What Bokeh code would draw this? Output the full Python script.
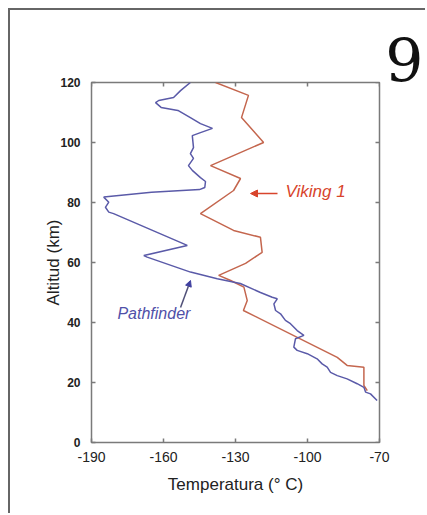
from bokeh.plotting import figure
from bokeh.models import Range1d, FixedTicker, Title, Arrow, NormalHead, Label
from bokeh.embed import file_html
from bokeh.resources import INLINE
import math

pf_alt = [120, 117.3, 115, 114, 113.3, 111.7, 110.7, 108.3, 106.3, 104.7, 103.3, 102.3,
          98.3, 96.3, 94.7, 92.3, 90.7, 88.3, 87, 85, 84.3, 83.4, 81.8, 80.1, 78.4, 76.8,
          76.3, 65.7, 62.3, 61.8, 56.8, 54.6, 53, 50, 48.4, 47.9, 46.2, 44, 42.9, 40.7,
          39.6, 37.3, 35.7, 34.6, 31.8, 30.7, 29.6, 27.9, 26.2, 25.1, 23.4, 22.3, 21.2,
          19.6, 18.4, 16.8, 16.2, 14]
pf_temp = [-148.8, -152.9, -155.8, -162, -163.3, -161, -154, -148.8, -144.6, -139.6, -144.6, -148,
           -147.5, -148.8, -147.5, -149.6, -148, -144.6, -142.5, -142.8, -145, -165, -184.9, -182.8, -184.2, -182.8,
           -180.8, -150.1, -168.2, -166.8, -148.75, -137.6, -128, -119.6, -114.7, -112.6, -114, -113.3, -111.25, -109.2,
           -107.1, -104.3, -101.5, -105, -105.7, -104.3, -100.1, -96, -93.9, -91.8, -90.4, -87.6, -83.5,
           -79.3, -76.5, -75.8, -73.75, -71]

vk_alt = [120, 115.7, 108.3, 100, 92.3, 88, 84, 76.3, 70.7, 68.4, 63.4, 59.7, 55.7, 54,
          51.8, 47.3, 44, 28.4, 25.7, 25.1, 19, 17.3]
vk_temp = [-138.3, -124.6, -127.5, -118.3, -140.4, -127.9, -130.8, -144.6, -130.8, -119.6, -118.9, -125.8, -137, -132,
           -126.5, -125.1, -126.7, -87.6, -83.5, -76.5, -76.5, -75.1]

x_ticks = [-190, -160, -130, -100, -70]
y_ticks = [0, 20, 40, 60, 80, 100, 120]

BLUE = "#5a5aa8"
RED = "#c4664e"
GRAY = "#7a7a7a"

p = figure(width=417, height=505, output_backend="svg", toolbar_location=None,
           x_range=Range1d(-190, -70), y_range=Range1d(0, 120),
           min_border_left=81, min_border_right=48, min_border_top=72, min_border_bottom=73)
p.styles = {"margin-left": "8px", "margin-top": "8px",
            "border-top": "2px solid #666666", "border-left": "2px solid #666666"}
p.grid.visible = False
p.outline_line_color = GRAY
p.outline_line_width = 1.5
p.background_fill_color = "white"
p.border_fill_color = "white"

p.title = Title(text="9", text_font="DejaVu Serif", text_font_size="60px",
                text_font_style="normal", text_color="#111111", align="right",
                offset=-44, standoff=0, vertical_align="middle")
p.title_location = "above"

p.xaxis.ticker = FixedTicker(ticks=x_ticks)
p.yaxis.ticker = FixedTicker(ticks=y_ticks)
p.xaxis.major_label_overrides = {t: str(t) for t in x_ticks}
for ax in (p.xaxis[0], p.yaxis[0]):
    ax.axis_line_color = None
    ax.major_tick_in = 4
    ax.major_tick_out = 0
    ax.major_tick_line_color = GRAY
    ax.major_tick_line_width = 1.5
    ax.minor_tick_line_color = None
    ax.major_label_text_color = "#222222"
    ax.axis_label_text_font = "Liberation Sans"
    ax.axis_label_text_font_size = "17px"
    ax.axis_label_text_font_style = "normal"
    ax.axis_label_text_color = "#222222"

p.xaxis.major_label_text_font = "Liberation Sans"
p.xaxis.major_label_text_font_size = "14px"
p.xaxis.major_label_standoff = 9
p.xaxis.axis_label = "Temperatura (° C)"
p.xaxis.axis_label_standoff = 10
p.yaxis.major_label_text_font = "Liberation Sans"
p.yaxis.major_label_text_font_style = "bold"
p.yaxis.major_label_text_font_size = "12px"
p.yaxis.major_label_standoff = 11
p.yaxis.axis_label = "Altitud (km)"
p.yaxis.axis_label_standoff = -6

# inward ticks on the top and right frame edges
p.ray(x=x_ticks, y=[120] * len(x_ticks), length=4, length_units="screen",
      angle=-math.pi / 2, line_color=GRAY, line_width=1.5)
p.ray(x=[-70] * len(y_ticks), y=y_ticks, length=4, length_units="screen",
      angle=math.pi, line_color=GRAY, line_width=1.5)

p.line(vk_temp, vk_alt, line_color=RED, line_width=1.5)
p.line(pf_temp, pf_alt, line_color=BLUE, line_width=1.5)

p.add_layout(Label(x=-109.2, y=83.7, text="Viking 1", text_font="Liberation Sans",
                   text_font_style="italic", text_font_size="17px", text_color="#d8442c",
                   text_baseline="middle"))
p.add_layout(Arrow(x_start=-112.5, y_start=83, x_end=-123.75, y_end=83,
                   line_color="#d8442c", line_width=1.5,
                   end=NormalHead(size=7, fill_color="#d8442c", line_color="#d8442c")))
p.add_layout(Label(x=-179.2, y=43, text="Pathfinder", text_font="Liberation Sans",
                   text_font_style="italic", text_font_size="16px", text_color="#5050a8",
                   text_baseline="middle"))
p.add_layout(Arrow(x_start=-152.9, y_start=45, x_end=-148.75, y_end=54,
                   line_color="#505078", line_width=1.5,
                   end=NormalHead(size=6, fill_color="#4040a0", line_color="#4040a0")))

open("out.html", "w").write(file_html(p, INLINE))
